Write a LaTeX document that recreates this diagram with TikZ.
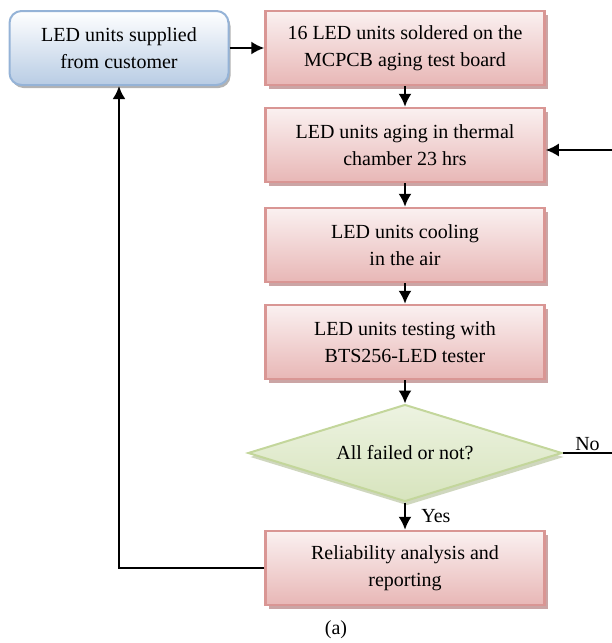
\documentclass[tikz,border=0pt]{standalone}
\usepackage{fontspec}
\setmainfont{Liberation Serif}
\usetikzlibrary{shapes.geometric,shadows,arrows.meta}
\tikzset{>={Latex[length=13pt,width=13pt]}}
\definecolor{boxred}{RGB}{217,150,148}
\definecolor{boxpink}{RGB}{232,183,182}
\definecolor{boxblue}{RGB}{149,179,215}
\definecolor{boxsky}{RGB}{184,204,228}
\definecolor{boxgreen}{RGB}{195,214,155}
\definecolor{boxlime}{RGB}{215,228,189}
\tikzset{
  every node/.style={font=\fontsize{20}{27}\selectfont,align=center},
  procbox/.style={draw=boxred,line width=2.5pt,top color=boxpink!20,bottom color=boxpink,
    minimum width=279pt,minimum height=74pt,
    drop shadow={shadow xshift=3pt,shadow yshift=-4pt,fill=boxred!70!gray,opacity=0.8}},
  startbox/.style={draw=boxblue,line width=2pt,rounded corners=12pt,top color=white,bottom color=boxsky,
    minimum width=219pt,minimum height=74pt,
    drop shadow={shadow xshift=2pt,shadow yshift=-3pt,fill=gray,opacity=0.6}},
  decide/.style={diamond,aspect=3.2,inner sep=0pt,draw=boxgreen,line width=2pt,
    top color=boxlime!45,bottom color=boxlime,minimum width=314pt,minimum height=97pt,
    drop shadow={shadow xshift=2pt,shadow yshift=-4pt,fill=boxgreen!70!gray,opacity=0.6}},
  arr/.style={->,line width=2pt}
}

\begin{document}
\begin{tikzpicture}[x=1pt,y=-1pt]
  \useasboundingbox (0,0) rectangle (612,643);
  % boxes of the flow
  \node[startbox] (supply) at (119,48) {LED units supplied\\from customer};
  \node[procbox] (solder) at (405,48) {16 LED units soldered on the\\MCPCB aging test board};
  \node[procbox] (aging) at (405,145) {LED units aging in thermal\\chamber 23 hrs};
  \node[procbox] (cool) at (405,245) {LED units cooling\\in the air};
  \node[procbox] (test) at (405,342) {LED units testing with\\BTS256-LED tester};
  \node[decide] (check) at (405,453) {All failed or not?};
  \node[procbox] (report) at (405,568) {Reliability analysis and\\reporting};
  \node (cap) at (336,630) {(a)};

  % connectors
  \coordinate (inR) at (612,150);
  \coordinate (outR) at (612,453);
  \draw[arr] (supply) -- (solder);
  \draw[arr] (solder) -- (aging);
  \draw[arr] (aging) -- (cool);
  \draw[arr] (cool) -- (test);
  \draw[arr] (test) -- (check);
  \draw[arr] (check) -- (report) node[midway,right=12pt] {Yes};
  \draw[line width=1.2pt] (check.east) -- (outR) node[midway,above=-2pt] {No};
  \draw[arr] (inR) -- (aging.east |- inR);
  \draw[arr,line width=2.4pt] (report.west) -| (supply.south);
\end{tikzpicture}
\end{document}
